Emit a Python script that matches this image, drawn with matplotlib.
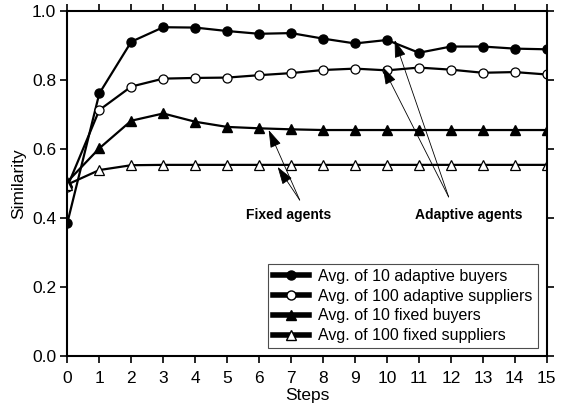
import numpy as np
import matplotlib
matplotlib.use("Agg")
import matplotlib.pyplot as plt
from matplotlib.lines import Line2D

plt.rcParams['font.family'] = ['Liberation Sans', 'DejaVu Sans']

steps = np.arange(0, 16)

# average similarity per step
adaptive_buyers = [0.386, 0.761, 0.911, 0.953, 0.952, 0.942, 0.934, 0.936,
                   0.920, 0.906, 0.916, 0.879, 0.897, 0.897, 0.891, 0.889]
adaptive_suppliers = [0.491, 0.713, 0.781, 0.804, 0.806, 0.807, 0.814, 0.820,
                      0.829, 0.833, 0.828, 0.836, 0.830, 0.821, 0.823, 0.816]
fixed_buyers = [0.505, 0.602, 0.682, 0.703, 0.679, 0.664, 0.660, 0.657,
                0.655, 0.655, 0.655, 0.655, 0.655, 0.655, 0.655, 0.655]
fixed_suppliers = [0.497, 0.539, 0.553, 0.554, 0.554, 0.554, 0.554, 0.554,
                   0.554, 0.554, 0.554, 0.554, 0.554, 0.554, 0.554, 0.554]

labels = ["Avg. of 10 adaptive buyers", "Avg. of 100 adaptive suppliers",
          "Avg. of 10 fixed buyers", "Avg. of 100 fixed suppliers"]

fig = plt.figure(figsize=(5.66, 4.08), dpi=100)
ax = fig.add_axes([0.119, 0.1275, 0.847, 0.8455])

lw = 1.6
ax.plot(steps, adaptive_buyers, color='k', lw=lw, marker='o', ms=6.5,
        mfc='k', mec='k', label=labels[0])
ax.plot(steps, adaptive_suppliers, color='k', lw=lw, marker='o', ms=6.5,
        mfc='white', mec='k', mew=0.9, label=labels[1])
ax.plot(steps, fixed_buyers, color='k', lw=lw, marker='^', ms=6.5,
        mfc='k', mec='k', label=labels[2])
ax.plot(steps, fixed_suppliers, color='k', lw=lw, marker='^', ms=6.5,
        mfc='white', mec='k', mew=0.9, label=labels[3])

ax.set_xlim(0, 15)
ax.set_ylim(0, 1.0)
ax.set_xticks(range(0, 16))
ax.set_yticks(np.arange(0, 1.01, 0.2))
ax.set_yticklabels(['%.1f' % v for v in np.arange(0, 1.01, 0.2)])
ax.tick_params(direction='out', length=5, width=1.2, labelsize=12.5,
               top=True, right=True)
ax.tick_params(axis='x', pad=5.5)
ax.tick_params(axis='y', pad=3)
for s in ax.spines.values():
    s.set_linewidth(1.5)
ax.set_xlabel("Steps", fontsize=12.5, labelpad=2)
ax.set_ylabel("Similarity", fontsize=12.5, labelpad=4)

# arrows pointing from the notes to the curves
arrow = dict(arrowstyle='-|>,head_length=1.1,head_width=0.35', color='k',
             lw=0.6, shrinkA=0, shrinkB=0)
ax.annotate("", xy=(6.30, 0.655), xytext=(7.27, 0.452), arrowprops=arrow)
ax.annotate("", xy=(6.58, 0.548), xytext=(7.27, 0.452), arrowprops=arrow)
ax.annotate("", xy=(10.24, 0.916), xytext=(11.93, 0.461), arrowprops=arrow)
ax.annotate("", xy=(9.87, 0.838), xytext=(11.93, 0.461), arrowprops=arrow)
ax.text(6.93, 0.409, "Fixed agents", fontsize=10, fontweight='bold',
        ha='center', va='center')
ax.text(12.57, 0.409, "Adaptive agents", fontsize=10, fontweight='bold',
        ha='center', va='center')

handles = [
    Line2D([], [], color='k', lw=4, marker='o', ms=6.5, mfc='k', mec='k'),
    Line2D([], [], color='k', lw=4, marker='o', ms=6.5, mfc='white', mec='k'),
    Line2D([], [], color='k', lw=4, marker='^', ms=6.5, mfc='k', mec='k'),
    Line2D([], [], color='k', lw=4, marker='^', ms=6.5, mfc='white', mec='k'),
]
leg = ax.legend(handles, labels, loc='lower right',
                bbox_to_anchor=(0.981, 0.023), fontsize=11.5, fancybox=False,
                framealpha=1, edgecolor='0.3', handlelength=2.25,
                handletextpad=0.6, borderpad=0.3, labelspacing=0.3,
                borderaxespad=0)
leg.get_frame().set_linewidth(0.8)

fig.savefig("out.png", dpi=100)
